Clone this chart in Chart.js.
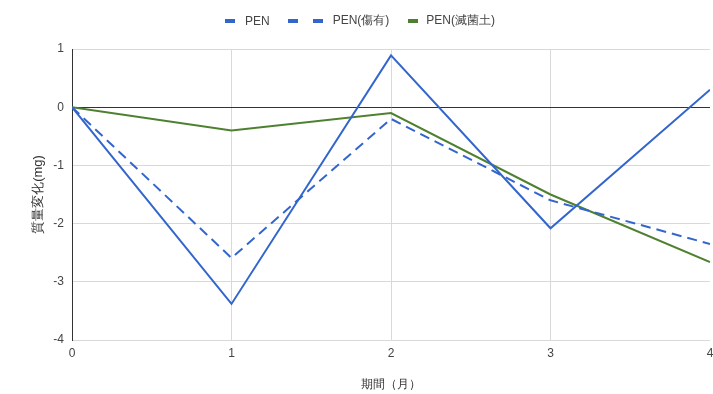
<!DOCTYPE html>
<html>
<head>
<meta charset="utf-8">
<script src="https://cdn.jsdelivr.net/npm/chart.js@4"></script>
<style>
  html, body { margin: 0; padding: 0; background: #fff; }
  #wrap { position: relative; width: 713px; height: 394px; }
  canvas { position: absolute; left: 0; top: 0; }
  #legend { position: absolute; left: 225px; top: 12px; display: flex; align-items: center;
            font: 12px "Liberation Sans", Arial, sans-serif; color: #444; white-space: nowrap; }
  .mk { display: inline-block; height: 4px; width: 10px; }
  .item { display: flex; align-items: center; }
</style>
</head>
<body>
<div id="wrap">
  <canvas id="c" width="713" height="394"></canvas>
  <div id="legend"></div>
</div>
<script>
// 期間（月）
const months = [0, 1, 2, 3, 4];
// 質量変化 (mg)
const penValues = [0, -3.38, 0.89, -2.08, 0.30];
const penScratchedValues = [0, -2.59, -0.20, -1.60, -2.35];
const penSterileSoilValues = [0, -0.40, -0.10, -1.50, -2.66];
const seriesNames = ['PEN', 'PEN(傷有)', 'PEN(滅菌土)'];
const yTicks = [1, 0, -1, -2, -3, -4];

const BLUE = '#3366cc';
const GREEN = '#4f8030';

// legend row
const legend = document.getElementById('legend');
const legendSpec = [
  { name: seriesNames[0], color: BLUE, dashed: false, gapAfter: 18, textGap: 10 },
  { name: seriesNames[1], color: BLUE, dashed: true, gapAfter: 19, textGap: 10 },
  { name: seriesNames[2], color: GREEN, dashed: false, gapAfter: 0, textGap: 8 }
];
legendSpec.forEach(s => {
  const item = document.createElement('span');
  item.className = 'item';
  item.style.marginRight = s.gapAfter + 'px';
  const n = s.dashed ? 2 : 1;
  for (let i = 0; i < n; i++) {
    const m = document.createElement('span');
    m.className = 'mk';
    m.style.background = s.color;
    if (i > 0) m.style.marginLeft = '15px';
    item.appendChild(m);
  }
  const t = document.createElement('span');
  t.textContent = s.name;
  t.style.marginLeft = s.textGap + 'px';
  item.appendChild(t);
  legend.appendChild(item);
});

const FONT = { family: '"Liberation Sans", Arial, sans-serif', size: 12 };

new Chart(document.getElementById('c'), {
  type: 'line',
  data: {
    labels: months,
    datasets: [
      { label: seriesNames[0], data: penValues, borderColor: BLUE, borderWidth: 2 },
      { label: seriesNames[1], data: penScratchedValues, borderColor: BLUE, borderWidth: 2, borderDash: [10, 6] },
      { label: seriesNames[2], data: penSterileSoilValues, borderColor: GREEN, borderWidth: 2 }
    ]
  },
  options: {
    responsive: false,
    animation: false,
    events: [],
    layout: { padding: { top: 49, right: 3, left: 0, bottom: 0 } },
    elements: { point: { radius: 0 }, line: { tension: 0 } },
    plugins: { legend: { display: false }, tooltip: { enabled: false } },
    scales: {
      x: {
        type: 'linear',
        min: 0, max: 4,
        afterBuildTicks: s => { s.ticks = months.map(v => ({ value: v })); },
        afterFit: s => { s.height = 54; s.paddingLeft = 0; s.paddingRight = 0; },
        ticks: { font: FONT, color: '#444', padding: 6, maxRotation: 0 },
        grid: {
          drawTicks: false,
          color: c => (c.tick && c.tick.value === 0) ? '#333' : (c.tick && c.tick.value === 4 ? 'rgba(0,0,0,0)' : '#d9d9d9'),
          lineWidth: 1
        },
        border: { display: false },
        title: { display: true, text: '期間（月）', font: FONT, color: '#333', padding: { top: 0, bottom: 2 } }
      },
      y: {
        min: -4, max: 1,
        afterBuildTicks: s => { s.ticks = yTicks.map(v => ({ value: v })); },
        afterFit: s => { s.width = 72; },
        ticks: { font: FONT, color: '#444', padding: 8 },
        grid: {
          drawTicks: false,
          color: c => (c.tick && c.tick.value === 0) ? '#333' : '#d9d9d9',
          lineWidth: 1
        },
        border: { display: true, color: '#333' },
        title: { display: true, text: '質量変化(mg)', font: { family: FONT.family, size: 13 }, color: '#333', padding: { top: 31, bottom: 0 } }
      }
    }
  }
});
</script>
</body>
</html>
